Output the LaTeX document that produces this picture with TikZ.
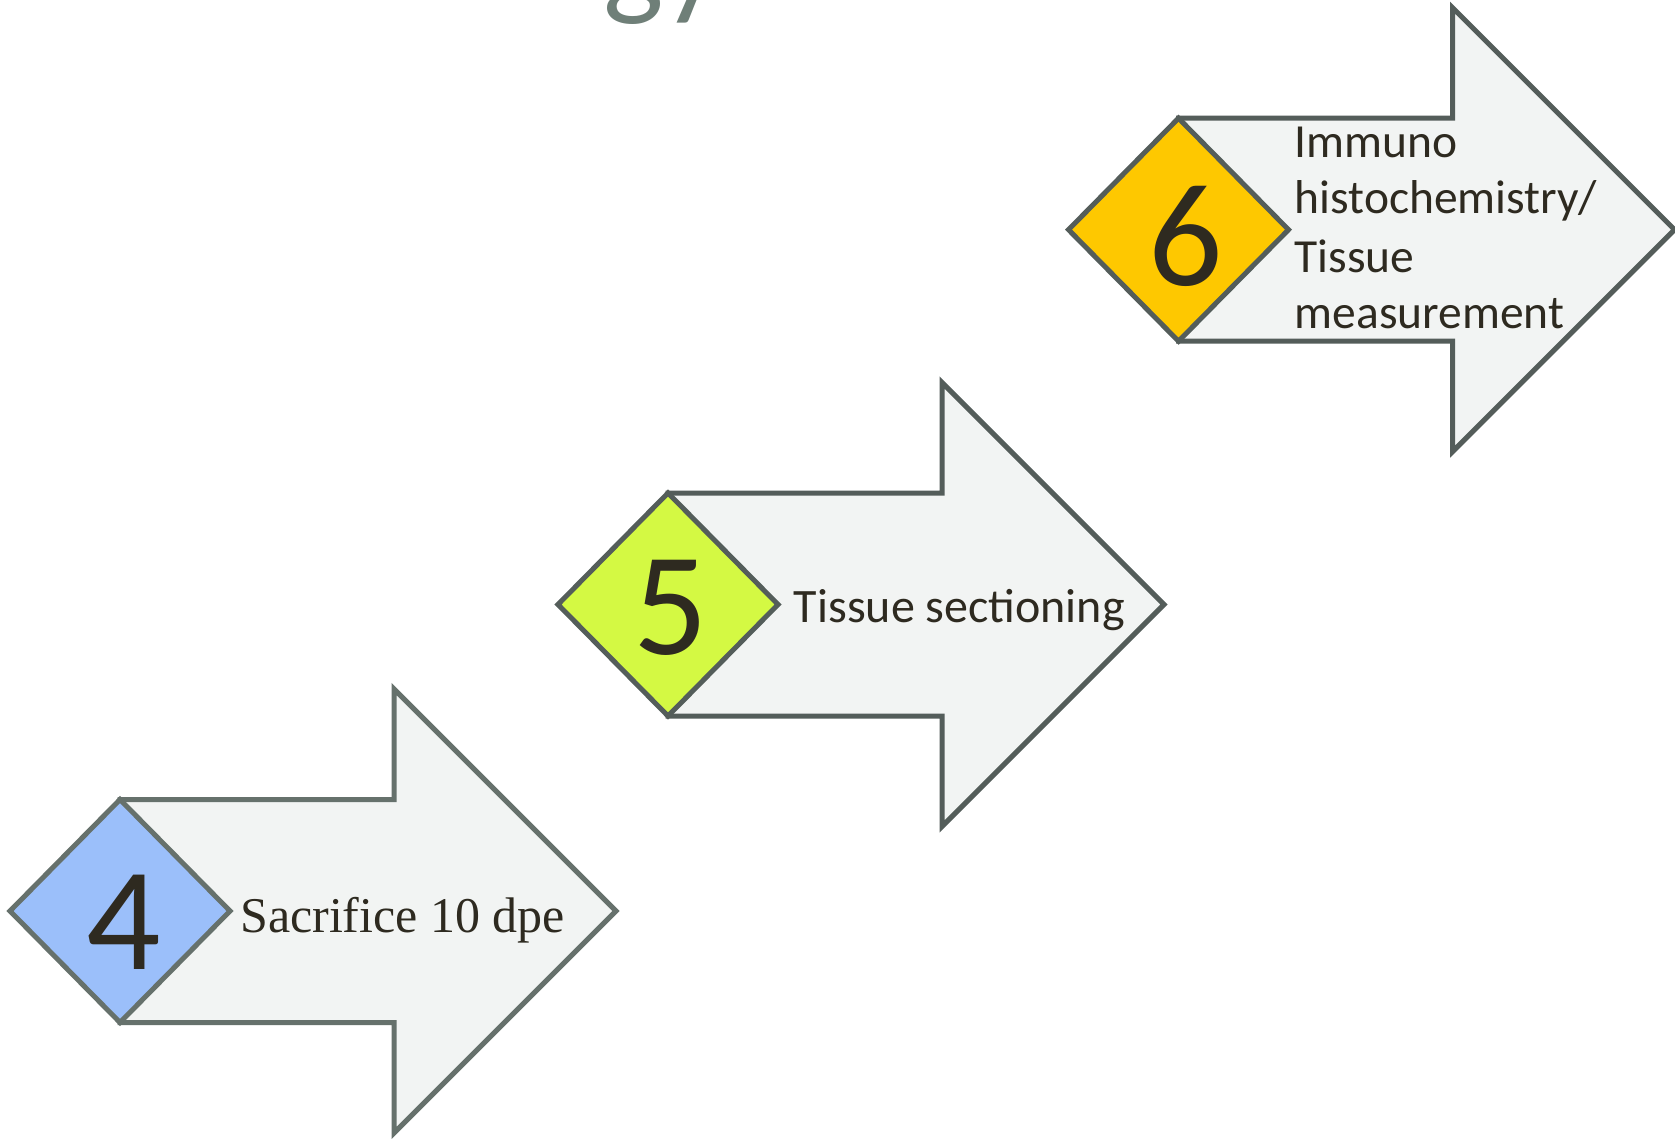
\documentclass[tikz,border=0pt]{standalone}
\usepackage{fontspec}
\setmainfont{Carlito}
\newfontfamily\serifface{Liberation Serif}
\definecolor{bgedge}{HTML}{EAEAEA}
\definecolor{arrowfill}{HTML}{F2F4F3}
\definecolor{edgeA}{HTML}{66716C}
\definecolor{edgeB}{HTML}{545D5A}
\definecolor{blueD}{HTML}{9BBFFA}
\definecolor{limeD}{HTML}{D4F943}
\definecolor{goldD}{HTML}{FEC800}
\definecolor{ink}{HTML}{2E2A20}
\definecolor{titleink}{HTML}{6F7F78}
\pgfdeclareradialshading{bgshade}{\pgfpoint{0bp}{0bp}}{color(0bp)=(white); color(37bp)=(white); color(50bp)=(bgedge)}
\newcommand{\arrowshape}[3]{%
  \draw[#3] (#1,#2-111.5) -- (#1+274,#2-111.5) -- (#1+274,#2-222) -- (#1+496,#2)
    -- (#1+274,#2+222) -- (#1+274,#2+111.5) -- (#1,#2+111.5) -- cycle;}
\newcommand{\diamondshape}[3]{%
  \draw[#3] (#1-110,#2) -- (#1,#2-111.5) -- (#1+110,#2) -- (#1,#2+111.5) -- cycle;}
\tikzset{
  arrowbody/.style={fill=arrowfill, line width=5pt, line join=miter},
  badge/.style={line width=5pt, line join=miter},
  lbl/.style={inner sep=0pt, anchor=base west, text=ink},
  numlbl/.style={inner sep=0pt, anchor=base, text=ink, font=\fontsize{147}{150}\selectfont},
  calib/.style={font=\fontsize{47.5}{57}\selectfont}
}
\begin{document}
\begin{tikzpicture}[x=1pt,y=-1pt]
\useasboundingbox (0,0) rectangle (1675,1139);
\begin{scope}
  \clip (0,0) rectangle (1675,1139);
  \shade[shading=bgshade] (-600,-700) rectangle (1800,1700);
  \node[inner sep=0pt, anchor=base west, text=titleink, font=\fontsize{128}{130}\selectfont] (title) at (603,3) {gy};
\end{scope}

% step 4
\arrowshape{120}{911}{arrowbody, draw=edgeA}
\diamondshape{120}{911}{badge, draw=edgeA, fill=blueD}
\node[numlbl] (n4) at (124,969) {4};
\node[lbl, font=\serifface\fontsize{50}{60}\selectfont] (t4) at (240,932.6) {Sacrifice 10 dpe};

% step 5
\arrowshape{668}{604.5}{arrowbody, draw=edgeB}
\diamondshape{668}{604.5}{badge, draw=edgeB, fill=limeD}
\node[numlbl] (n5) at (671,654) {5};
\node[lbl, font=\fontsize{48}{58}\selectfont] (t5) at (793.7,622.8) {Tissue sectioning};

% step 6
\arrowshape{1178.5}{229.7}{arrowbody, draw=edgeB}
\diamondshape{1178.5}{229.7}{badge, draw=edgeB, fill=goldD}
\node[numlbl] (n6) at (1185.7,286) {6};
\node[lbl, calib] (t6a) at (1294.6,158) {Immuno};
\node[lbl, calib] (t6b) at (1294.6,213.6) {histochemistry/};
\node[lbl, calib] (t6c) at (1294.6,272.4) {Tissue};
\node[lbl, calib] (t6d) at (1294.6,329) {measurement};
\end{tikzpicture}
\end{document}
